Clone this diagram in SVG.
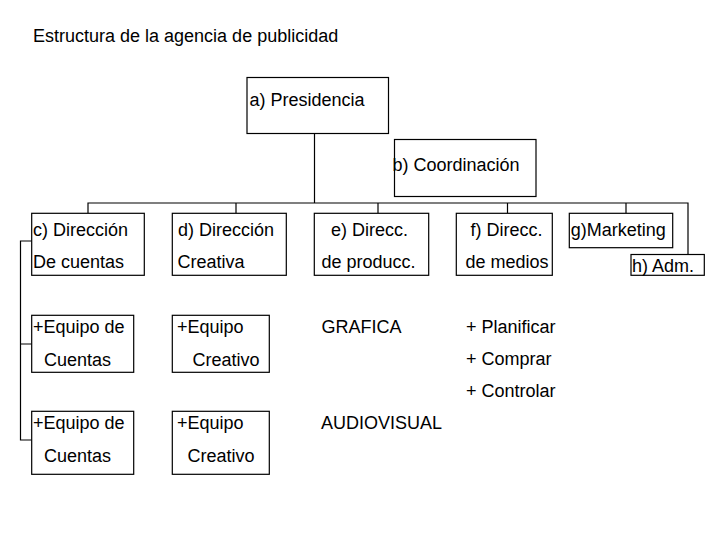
<svg xmlns="http://www.w3.org/2000/svg" width="720" height="540" viewBox="0 0 720 540">
<style>
text{font-family:"Liberation Sans",Arial,sans-serif;font-size:18px;fill:#000}
.b{fill:#fff;stroke:#000;stroke-width:1.2}
.c{fill:none;stroke:#000;stroke-width:1.2}
</style>
<rect width="720" height="540" fill="#fff"/>
<text x="33" y="42">Estructura de la agencia de publicidad</text>
<g id="connectors">
<path class="c" d="M314.5 133.5V203M88 213V203H688V254.5M236 203V213M378 203V213M507.5 203V213M626 203V213"/>
<path class="c" d="M31.7 241H20.5V440H31.7M20.5 344H31.7"/>
</g>
<g id="a"><rect class="b" x="247" y="77.5" width="141.5" height="56"/><text x="249.5" y="105.7">a) Presidencia</text></g>
<g id="b"><rect class="b" x="394.5" y="139.5" width="141.5" height="57"/><text x="392.5" y="171">b) Coordinación</text></g>
<g id="c"><rect class="b" x="31.7" y="213.3" width="112.6" height="62"/><text x="33" y="235.7">c) Dirección</text><text x="33" y="267.7">De cuentas</text></g>
<g id="d"><rect class="b" x="172.3" y="213.3" width="114" height="62"/><text x="178" y="235.7">d) Dirección</text><text x="177.5" y="267.7">Creativa</text></g>
<g id="e"><rect class="b" x="314.3" y="213.3" width="114.4" height="62"/><text x="331" y="235.7">e) Direcc.</text><text x="321.5" y="267.7">de producc.</text></g>
<g id="f"><rect class="b" x="456.3" y="213.3" width="96" height="62"/><text x="470.5" y="235.7">f) Direcc.</text><text x="465.5" y="267.7">de medios</text></g>
<g id="g"><rect class="b" x="569.3" y="213.3" width="103.4" height="34.4"/><text x="570.7" y="235.7">g)Marketing</text></g>
<g id="h"><rect class="b" x="631" y="254.5" width="73.3" height="20.8"/><text x="632" y="272">h) Adm.</text></g>
<g id="equipo-cuentas-1"><rect class="b" x="31.7" y="315.3" width="102" height="57"/><text x="33" y="332.7">+Equipo de</text><text x="44" y="365.7">Cuentas</text></g>
<g id="equipo-creativo-1"><rect class="b" x="172.3" y="315.3" width="97" height="57"/><text x="177" y="332.7">+Equipo</text><text x="192.5" y="365.7">Creativo</text></g>
<g id="grafica"><text x="321.5" y="332.7">GRAFICA</text></g>
<g id="medios-tareas"><text x="466" y="332.7">+ Planificar</text><text x="466" y="364.7">+ Comprar</text><text x="466" y="396.7">+ Controlar</text></g>
<g id="equipo-cuentas-2"><rect class="b" x="31.7" y="411.3" width="102" height="63"/><text x="33" y="429.3">+Equipo de</text><text x="44" y="461.7">Cuentas</text></g>
<g id="equipo-creativo-2"><rect class="b" x="172.3" y="411.3" width="97" height="63"/><text x="177" y="429.3">+Equipo</text><text x="187.5" y="461.7">Creativo</text></g>
<g id="audiovisual"><text x="321" y="429.3">AUDIOVISUAL</text></g>
</svg>
